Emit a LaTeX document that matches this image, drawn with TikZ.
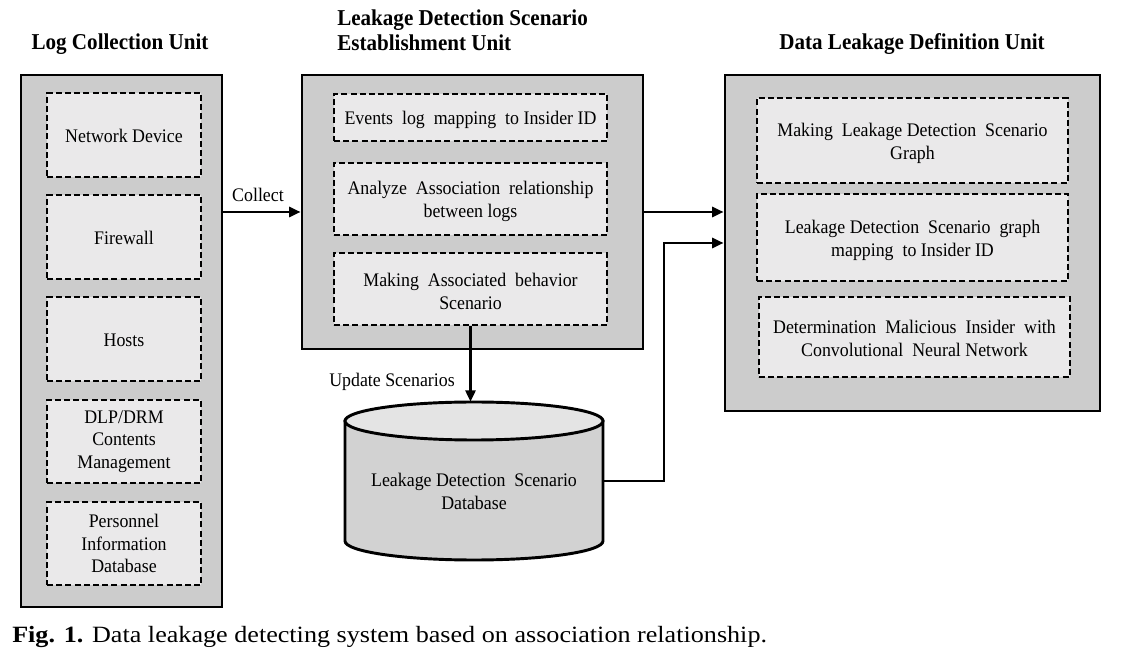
\documentclass[tikz,border=0pt]{standalone}
\usepackage{fontspec}
\setmainfont{Liberation Serif}[FakeStretch=0.93]
\newfontfamily\capfont{Liberation Serif}[FakeStretch=1.12]
\usetikzlibrary{fit,arrows.meta}
\definecolor{outergray}{RGB}{204,204,204}
\definecolor{innergray}{RGB}{234,233,234}
\definecolor{cylbody}{RGB}{210,210,210}
\definecolor{cyltop}{RGB}{228,228,228}
\tikzset{
  outerbox/.style={draw, line width=2.2pt, fill=outergray, inner sep=0pt},
  innerbox/.style={draw, line width=1.4pt, dash pattern=on 4.5pt off 2.4pt, fill=innergray, inner sep=0pt, align=center, font=\fontsize{14.2}{17.2}\selectfont},
  titletext/.style={font=\fontsize{17}{18.8}\selectfont\bfseries, inner sep=0pt},
  lbl/.style={font=\fontsize{14.4}{17.2}\selectfont, inner sep=0pt},
  conn/.style={line width=1.9pt, -{Triangle[length=8.5pt,width=7.5pt]}},
}
\begin{document}
\begin{tikzpicture}[x=0.75pt,y=-0.75pt]
\useasboundingbox[fill=white] (0,0) rectangle (1121,655);

% titles
\node[titletext] (t1) at (120,44) {Log Collection Unit};
\node[titletext, anchor=west, align=left] (t2) at (337,30.5) {Leakage Detection Scenario\\Establishment Unit};
\node[titletext] (t3) at (912,44) {Data Leakage Definition Unit};

% left unit
\node[outerbox, fit={(21,75) (222,607)}] (left) {};
\node[innerbox, fit={(47,93) (201,177)}] (l1) {};
\node[lbl] (l1t) at ([yshift=-0.75pt]l1.center) {Network Device};
\node[innerbox, fit={(47,195) (201,279)}] (l2) {};
\node[lbl] (l2t) at ([yshift=-0.75pt]l2.center) {Firewall};
\node[innerbox, fit={(47,297) (201,381)}] (l3) {};
\node[lbl] (l3t) at ([yshift=-0.75pt]l3.center) {Hosts};
\node[innerbox, fit={(47,400) (201,483)}] (l4) {};
\node[lbl, align=center, font=\fontsize{14.4}{16.9}\selectfont] (l4t) at (l4.center) {DLP/DRM\\Contents\\Management};
\node[innerbox, fit={(47,502) (201,585)}] (l5) {};
\node[lbl, align=center, font=\fontsize{14.4}{16.9}\selectfont] (l5t) at (l5.center) {Personnel\\Information\\Database};

% middle unit
\node[outerbox, fit={(302,75) (643,349)}] (mid) {};
\node[innerbox, fit={(334,94) (607,141)}] (m1) {};
\node[lbl] (m1t) at ([yshift=-1.5pt]m1.center) {Events\ \ log\ \ mapping\ \ to Insider\ ID};
\node[innerbox, fit={(334,163) (607,235)}] (m2) {};
\node[lbl, align=center] (m2t) at ([yshift=-1.5pt]m2.center) {Analyze\ \ Association\ \ relationship\\between logs};
\node[innerbox, fit={(334,253) (607,325)}] (m3) {};
\node[lbl, align=center] (m3t) at ([yshift=-1.5pt]m3.center) {Making\ \ Associated\ \ behavior\\Scenario};

% right unit
\node[outerbox, fit={(725,75) (1100,411)}] (right) {};
\node[innerbox, fit={(757,98) (1068,183)}] (r1) {};
\node[lbl, align=center] (r1t) at ([yshift=-2.2pt]r1.center) {Making\ \ Leakage\ Detection\ \ Scenario\\Graph};
\node[innerbox, fit={(757,194) (1068,281)}] (r2) {};
\node[lbl, align=center] (r2t) at ([yshift=-2.2pt]r2.center) {Leakage\ Detection\ \ Scenario\ \ graph\\mapping\ \ to Insider\ ID};
\node[innerbox, fit={(759,297) (1070,377)}] (r3) {};
\node[lbl, align=center] (r3t) at ([yshift=-1pt]r3.center) {Determination\ \ Malicious\ \ Insider\ \ with\\Convolutional\ \ Neural\ Network};

% database cylinder
\path[draw, line width=2.2pt, fill=cylbody] (345,421) -- (345,541) arc[start angle=180, end angle=0, x radius=129, y radius=19] -- (603,421) -- cycle;
\path[draw, line width=2.2pt, fill=cyltop] (474,421) ellipse[x radius=129, y radius=19];
\node[minimum width=193.5pt, minimum height=118.5pt, inner sep=0pt] (db) at (474,481) {};
\node[lbl, align=center] (dbt) at (474,491) {Leakage\ Detection\ \ Scenario\\Database};

% connectors
\coordinate (bend) at (664,0);
\draw[conn] (left.east |- mid.west) -- (mid.west);
\draw[conn] (mid.east) -- (mid.east -| right.west);
\draw[conn] (m3.south) -- (m3.south |- db.north);
\draw[conn] (db.east) -- (db.east -| bend) |- (right.west);

% connector labels
\node[lbl] (collect) at (258,195) {Collect};
\node[lbl] (upd) at (392,382) {Update Scenarios};

% caption
\node[anchor=west, inner sep=0pt, font=\capfont\fontsize{17.5}{20}\selectfont] (cap) at (12,637) {\textbf{Fig. 1.} Data leakage detecting system based on association relationship.};
\end{tikzpicture}
\end{document}
